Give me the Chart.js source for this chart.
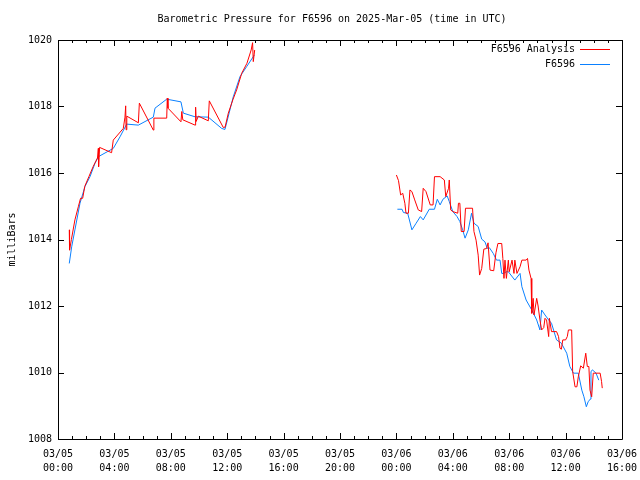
<!DOCTYPE html>
<html>
<head>
<meta charset="utf-8">
<script src="https://cdn.jsdelivr.net/npm/chart.js@4.4.1/dist/chart.umd.min.js"></script>
<style>
  html, body { margin: 0; padding: 0; background: #fff; }
  canvas { display: block; }
</style>
</head>
<body>
<canvas id="pressureChart" width="640" height="480"></canvas>
<script>
// hours since 03/05 00:00 UTC, values in millibars; null = no data
const analysisHours = [
  0.80, 0.82, 0.95, 1.2, 1.45, 1.6, 1.75, 1.9, 2.2, 2.5, 2.8, 2.86, 2.88, 2.95,
  3.8, 3.92, 4.63, 4.75, 4.8, 4.83, 4.88, 5.7, 5.77, 6.76, 6.8, 7.71, 7.75, 7.8,
  8.72, 8.78, 8.85, 9.72, 9.76, 9.8, 9.95, 10.66, 10.73, 11.72, 11.85, 12.08,
  12.4, 12.67, 13.03, 13.4, 13.7, 13.8, 13.85, 13.95,
  19,
  24.0, 24.15, 24.3, 24.45, 24.6, 24.68, 24.85, 24.96, 25.1, 25.3, 25.55, 25.79,
  25.9, 26.1, 26.4, 26.6, 26.7, 27.1, 27.4, 27.5, 27.7, 27.75, 27.85, 28.0,
  28.35, 28.4, 28.5, 28.6, 28.8, 28.9, 29.4, 29.5, 29.65, 29.8, 29.9, 30.05,
  30.2, 30.4, 30.5, 30.64, 30.9, 31.06, 31.2, 31.47, 31.55, 31.63, 31.7, 31.8,
  31.94, 32.0, 32.2, 32.34, 32.4, 32.55, 32.77, 32.9, 33.2, 33.3, 33.4, 33.55,
  33.6, 33.7, 33.76, 33.95, 34.05, 34.18, 34.3, 34.45, 34.54, 34.65, 34.8,
  34.85, 35.0, 35.36, 35.5, 35.6, 35.7, 35.8, 36.0, 36.12, 36.2, 36.43, 36.5,
  36.67, 36.8, 36.9, 37.07, 37.26, 37.43, 37.54, 37.65, 37.73, 37.85, 37.96,
  38.3, 38.45, 38.55, 38.6
];
const analysisValues = [
  1014.29, 1013.68, 1014.0, 1014.59, 1015.0, 1015.24, 1015.24, 1015.6, 1015.9,
  1016.2, 1016.45, 1016.74, 1016.19, 1016.77, 1016.61, 1016.99, 1017.34,
  1017.68, 1018.02, 1017.3, 1017.71, 1017.51, 1018.10, 1017.29, 1017.65,
  1017.65, 1018.25, 1017.95, 1017.54, 1017.85, 1017.6, 1017.44, 1017.98,
  1017.55, 1017.71, 1017.57, 1018.17, 1017.37, 1017.38, 1017.8, 1018.2, 1018.5,
  1019.0, 1019.3, 1019.7, 1019.92, 1019.35, 1019.7,
  null,
  1015.94, 1015.77, 1015.34, 1015.39, 1015.09, 1014.79, 1014.79, 1015.49,
  1015.44, 1015.19, 1014.89, 1014.84, 1015.54, 1015.44, 1015.04, 1015.04,
  1015.89, 1015.89, 1015.79, 1015.29, 1015.54, 1015.79, 1014.89, 1014.84,
  1014.79, 1015.09, 1015.09, 1014.24, 1014.24, 1014.94, 1014.94, 1014.24,
  1013.98, 1013.53, 1012.93, 1013.13, 1013.71, 1013.73, 1013.9, 1013.08,
  1013.06, 1013.6, 1013.88, 1013.88, 1013.43, 1012.83, 1013.38, 1012.83,
  1013.38, 1013.03, 1013.38, 1012.98, 1013.38, 1012.98, 1013.18, 1013.38,
  1013.38, 1013.43, 1013.08, 1012.83, 1011.78, 1012.23, 1011.73, 1012.23,
  1012.0, 1011.58, 1011.28, 1011.35, 1011.63, 1011.58, 1011.08, 1011.63,
  1011.23, 1011.23, 1011.08, 1010.73, 1010.7, 1010.98, 1010.98, 1011.08,
  1011.28, 1011.28, 1010.03, 1009.57, 1009.57, 1009.87, 1010.2, 1010.13,
  1010.58, 1010.18, 1010.18, 1009.47, 1009.27, 1009.98, 1009.98, 1009.98,
  1009.73, 1009.53
];

const stationHours = [
  0.80, 0.97, 1.2, 1.56, 1.91, 2.27, 2.62, 2.86, 3.92, 4.4, 4.87, 5.7, 6.76,
  6.88, 7.71, 8.72, 8.89, 9.72, 10.66, 11.61, 11.84, 12.43, 12.91, 13.38,
  13.85, 13.92,
  19,
  24.07, 24.4, 24.5, 24.8, 25.1, 25.4, 25.7, 25.9, 26.33, 26.7, 26.9, 27.1,
  27.3, 27.6, 27.75, 28.0, 28.3, 28.5, 28.7, 28.87, 29.1, 29.33, 29.5, 29.8,
  30.05, 30.28, 30.45, 30.6, 30.87, 31.1, 31.35, 31.47, 31.6, 31.8, 31.94,
  32.4, 32.77, 32.9, 33.2, 33.6, 33.95, 34.18, 34.3, 34.54, 34.8, 35.0, 35.36,
  35.7, 36.08, 36.3, 36.56, 36.9, 37.15, 37.3, 37.47, 37.6, 37.75, 37.8, 37.9,
  38.16, 38.35
];
const stationValues = [
  1013.28, 1013.78, 1014.29, 1015.09, 1015.59, 1015.89, 1016.29, 1016.49,
  1016.74, 1017.09, 1017.47, 1017.44, 1017.68, 1017.95, 1018.22, 1018.14,
  1017.80, 1017.69, 1017.68, 1017.34, 1017.31, 1018.29, 1018.90, 1019.20,
  1019.50, 1019.55,
  null,
  1014.91, 1014.91, 1014.81, 1014.79, 1014.29, 1014.49, 1014.69, 1014.59,
  1014.91, 1014.91, 1015.21, 1015.04, 1015.21, 1015.31, 1015.14, 1014.84,
  1014.69, 1014.54, 1014.29, 1014.04, 1014.29, 1014.79, 1014.49, 1014.39,
  1014.01, 1013.93, 1013.73, 1013.75, 1013.58, 1013.38, 1013.38, 1012.98,
  1012.98, 1013.03, 1013.03, 1012.78, 1012.98, 1012.58, 1012.18, 1011.88,
  1011.58, 1011.28, 1011.88, 1011.73, 1011.58, 1011.48, 1010.98, 1010.88,
  1010.58, 1010.18, 1009.98, 1009.98, 1009.47, 1009.27, 1008.97, 1009.12,
  1009.2, 1010.02, 1010.08, 1009.98, 1009.77
];

// x tick labels every 4 hours
const tickDates = ["03/05", "03/05", "03/05", "03/05", "03/05", "03/05",
  "03/06", "03/06", "03/06", "03/06", "03/06"];
const tickTimes = ["00:00", "04:00", "08:00", "12:00", "16:00", "20:00",
  "00:00", "04:00", "08:00", "12:00", "16:00"];

const chartTitle = "Barometric Pressure for F6596 on 2025-Mar-05 (time in UTC)";
const yTitle = "milliBars";

const FONT = "DejaVu Sans Mono";

function toPoints(xs, ys) {
  return xs.map((x, i) => ({ x: x, y: ys[i] }));
}

// gnuplot-like frame, inward ticks, title, axis label and legend
const gnuplotDecor = {
  id: "gnuplotDecor",
  afterDraw(chart) {
    const ctx = chart.ctx;
    const area = chart.chartArea;
    const xs = chart.scales.x;
    const ys = chart.scales.y;
    ctx.save();
    ctx.strokeStyle = "#000";
    ctx.lineWidth = 1;
    ctx.beginPath();
    ctx.rect(Math.round(area.left) + 0.5, Math.round(area.top) + 0.5,
      Math.round(area.right - area.left), Math.round(area.bottom - area.top));
    ctx.stroke();

    ctx.beginPath();
    for (let h = xs.min; h <= xs.max; h++) {
      const px = Math.round(xs.getPixelForValue(h)) + 0.5;
      const len = h % 4 === 0 ? 6 : 3;
      ctx.moveTo(px, area.bottom);
      ctx.lineTo(px, area.bottom - len);
      ctx.moveTo(px, area.top);
      ctx.lineTo(px, area.top + len);
    }
    ys.ticks.forEach((t) => {
      const py = Math.round(ys.getPixelForValue(t.value)) + 0.5;
      ctx.moveTo(area.left, py);
      ctx.lineTo(area.left + 6, py);
      ctx.moveTo(area.right, py);
      ctx.lineTo(area.right - 6, py);
    });
    ctx.stroke();

    ctx.fillStyle = "#000";
    ctx.font = "10px '" + FONT + "'";
    ctx.textAlign = "center";
    ctx.textBaseline = "middle";
    ctx.fillText(chartTitle, 332, 19);

    ctx.save();
    ctx.translate(12, (area.top + area.bottom) / 2);
    ctx.rotate(-Math.PI / 2);
    ctx.fillText(yTitle, 0, 0);
    ctx.restore();

    // legend: text then sample line
    ctx.textAlign = "right";
    chart.data.datasets.forEach((ds, i) => {
      const y = area.top + 9 + i * 15;
      ctx.fillStyle = "#000";
      ctx.fillText(ds.label, area.right - 47, y);
      ctx.strokeStyle = ds.borderColor;
      ctx.beginPath();
      ctx.moveTo(area.right - 42, Math.round(y) + 0.5);
      ctx.lineTo(area.right - 12, Math.round(y) + 0.5);
      ctx.stroke();
    });
    ctx.restore();
  }
};

const ctx = document.getElementById("pressureChart").getContext("2d");
const pressureChart = new Chart(ctx, {
  type: "line",
  data: {
    datasets: [
      {
        label: "F6596 Analysis",
        data: toPoints(analysisHours, analysisValues),
        borderColor: "#ff0000",
        borderWidth: 1,
        pointRadius: 0,
        spanGaps: false,
        tension: 0,
      },
      {
        label: "F6596",
        data: toPoints(stationHours, stationValues),
        borderColor: "#0a80ff",
        borderWidth: 1,
        pointRadius: 0,
        spanGaps: false,
        tension: 0,
      },
    ],
  },
  options: {
    responsive: false,
    animation: false,
    layout: {
      padding: { top: 40, right: 18, left: 0, bottom: 0 },
    },
    plugins: {
      legend: { display: false },
      tooltip: { enabled: false },
      title: { display: false },
    },
    scales: {
      x: {
        type: "linear",
        min: 0,
        max: 40,
        grid: { display: false, drawTicks: false },
        border: { display: false },
        ticks: {
          stepSize: 4,
          autoSkip: false,
          maxRotation: 0,
          padding: 8,
          color: "#000",
          font: { family: FONT, size: 10, lineHeight: 1.4 },
          callback: (value) => {
            const i = Math.round(value / 4);
            return [tickDates[i], tickTimes[i]];
          },
        },
        afterFit: (scale) => {
          scale.height = 41;
          // let the end labels overhang like the original
          scale.paddingLeft = 0;
          scale.paddingRight = 0;
        },
      },
      y: {
        min: 1008,
        max: 1020,
        grid: { display: false, drawTicks: false },
        border: { display: false },
        ticks: {
          stepSize: 2,
          padding: 6,
          color: "#000",
          font: { family: FONT, size: 10 },
          callback: (value) => String(value),
        },
        afterFit: (scale) => {
          scale.width = 58;
          scale.paddingTop = 0;
          scale.paddingBottom = 0;
        },
      },
    },
  },
  plugins: [gnuplotDecor],
});
</script>
</body>
</html>
